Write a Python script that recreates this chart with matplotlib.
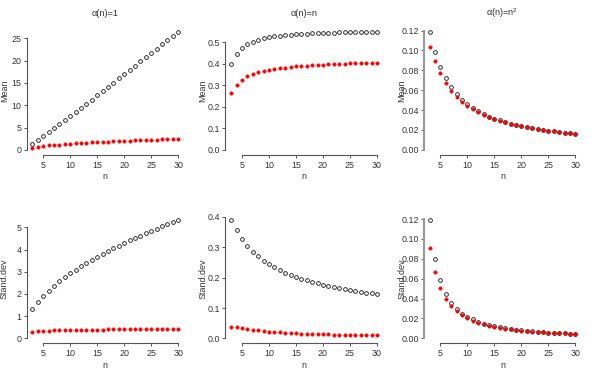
import matplotlib
matplotlib.use("Agg")
import matplotlib.pyplot as plt
import numpy as np

plt.rcParams['font.family'] = ['Liberation Sans', 'DejaVu Sans']
plt.rcParams['mathtext.fontset'] = 'custom'
plt.rcParams['mathtext.rm'] = 'Liberation Sans'

n = list(range(3, 31))

mean1_black = [1.4, 2.2, 3.0, 3.9, 4.8, 5.7, 6.6, 7.5, 8.4, 9.3, 10.3, 11.2, 12.2, 13.1,
               14.1, 15.0, 16.0, 16.9, 17.9, 18.8, 19.8, 20.7, 21.7, 22.6, 23.6, 24.6, 25.6, 26.5]
mean1_red = [0.5, 0.7, 0.85, 1.0, 1.1, 1.2, 1.3, 1.4, 1.45, 1.5, 1.6, 1.65, 1.7, 1.78,
             1.85, 1.9, 1.95, 2.0, 2.05, 2.1, 2.15, 2.2, 2.25, 2.3, 2.35, 2.4, 2.42, 2.45]

mean2_black = [0.40, 0.445, 0.472, 0.49, 0.502, 0.51, 0.517, 0.522, 0.526, 0.529, 0.532, 0.534,
               0.536, 0.537, 0.539, 0.54, 0.541, 0.542, 0.543, 0.544, 0.545, 0.545, 0.546,
               0.547, 0.547, 0.548, 0.548, 0.549]
mean2_red = [0.265, 0.302, 0.325, 0.341, 0.352, 0.36, 0.366, 0.371, 0.375, 0.379, 0.382, 0.385,
             0.387, 0.389, 0.391, 0.393, 0.394, 0.396, 0.397, 0.398, 0.399, 0.400, 0.401,
             0.402, 0.403, 0.404, 0.404, 0.405]

mean3_black = [0.119, 0.098, 0.083, 0.072, 0.063, 0.056, 0.0505, 0.046, 0.042, 0.039, 0.036,
               0.0335, 0.0315, 0.0297, 0.028, 0.0265, 0.0252, 0.024, 0.023, 0.022, 0.021,
               0.0202, 0.0194, 0.0187, 0.018, 0.0174, 0.0168, 0.0163]
mean3_red = [0.103, 0.089, 0.077, 0.067, 0.0595, 0.0535, 0.0485, 0.0445, 0.041, 0.038, 0.0353,
             0.033, 0.031, 0.0293, 0.0277, 0.0262, 0.025, 0.0238, 0.0228, 0.0218, 0.0209,
             0.0201, 0.0193, 0.0186, 0.0179, 0.0173, 0.0167, 0.0162]

sd1_black = [1.32, 1.63, 1.90, 2.15, 2.37, 2.57, 2.75, 2.93, 3.09, 3.24, 3.39, 3.53, 3.67, 3.80,
             3.93, 4.06, 4.18, 4.30, 4.41, 4.52, 4.63, 4.74, 4.84, 4.94, 5.04, 5.14, 5.24, 5.33]
sd1_red = [0.28, 0.31, 0.33, 0.345, 0.355, 0.365, 0.37, 0.375, 0.38, 0.385, 0.39, 0.39, 0.395,
           0.395, 0.40, 0.40, 0.40, 0.402, 0.403, 0.404, 0.405, 0.406, 0.406, 0.407, 0.408,
           0.408, 0.409, 0.41]

sd2_black = [0.39, 0.357, 0.328, 0.305, 0.286, 0.27, 0.256, 0.244, 0.234, 0.225, 0.217, 0.21,
             0.203, 0.197, 0.191, 0.186, 0.181, 0.177, 0.173, 0.169, 0.165, 0.162, 0.159,
             0.156, 0.153, 0.15, 0.148, 0.145]
sd2_red = [0.039, 0.036, 0.033, 0.030, 0.028, 0.026, 0.024, 0.022, 0.021, 0.020, 0.019, 0.018,
           0.017, 0.016, 0.0155, 0.015, 0.014, 0.0135, 0.013, 0.0125, 0.012, 0.0115, 0.011,
           0.011, 0.0105, 0.010, 0.010, 0.0095]

sd3_black = [0.119, 0.080, 0.059, 0.045, 0.036, 0.030, 0.025, 0.0215, 0.019, 0.0165, 0.0147,
             0.0132, 0.012, 0.011, 0.0101, 0.0093, 0.0086, 0.008, 0.0075, 0.007, 0.0066,
             0.0062, 0.0058, 0.0055, 0.0052, 0.005, 0.0047, 0.0045]
sd3_red = [0.091, 0.067, 0.051, 0.040, 0.033, 0.0275, 0.0233, 0.020, 0.0175, 0.0155, 0.014,
           0.0127, 0.0115, 0.0105, 0.0097, 0.009, 0.0083, 0.0078, 0.0073, 0.0068, 0.0064,
           0.006, 0.0057, 0.0054, 0.0051, 0.0049, 0.0046, 0.0044]

titles = ["α(n)=1", "α(n)=n", "α(n)=n$^{2}$"]
xticks = [5, 10, 15, 20, 25, 30]
yticks_top = [[0, 5, 10, 15, 20, 25], [0.0, 0.1, 0.2, 0.3, 0.4, 0.5],
              [0.00, 0.02, 0.04, 0.06, 0.08, 0.10, 0.12]]
ytl_top = [["0", "5", "10", "15", "20", "25"], ["0.0", "0.1", "0.2", "0.3", "0.4", "0.5"],
           ["0.00", "0.02", "0.04", "0.06", "0.08", "0.10", "0.12"]]
yticks_bot = [[0, 1, 2, 3, 4, 5], [0.0, 0.1, 0.2, 0.3, 0.4],
              [0.00, 0.02, 0.04, 0.06, 0.08, 0.10, 0.12]]
ytl_bot = [["0", "1", "2", "3", "4", "5"], ["0.0", "0.1", "0.2", "0.3", "0.4"],
           ["0.00", "0.02", "0.04", "0.06", "0.08", "0.10", "0.12"]]

panels = [
    (0, 0, mean1_black, mean1_red, "Mean", titles[0], yticks_top[0], ytl_top[0]),
    (0, 1, mean2_black, mean2_red, "Mean", titles[1], yticks_top[1], ytl_top[1]),
    (0, 2, mean3_black, mean3_red, "Mean", titles[2], yticks_top[2], ytl_top[2]),
    (1, 0, sd1_black, sd1_red, "Stand.dev", None, yticks_bot[0], ytl_bot[0]),
    (1, 1, sd2_black, sd2_red, "Stand.dev", None, yticks_bot[1], ytl_bot[1]),
    (1, 2, sd3_black, sd3_red, "Stand.dev", None, yticks_bot[2], ytl_bot[2]),
]

W, H = 595, 377
fig = plt.figure(figsize=(W / 100, H / 100), dpi=100)

lefts = [26.6, 225.3, 423.8]
width = 157.5
tops = [26.8, 215.3]
height = 127.8

fs = 6.4
for row, col, blk, red, ylab, title, yt, ytl in panels:
    ax = fig.add_axes([lefts[col] / W, 1 - (tops[row] + height) / H, width / W, height / H])
    ax.plot(n, blk, linestyle='none', marker='o', markersize=2.7, markerfacecolor='none',
            markeredgecolor='#222222', markeredgewidth=0.65)
    ax.plot(n, red, linestyle='none', marker='o', markersize=2.5, markerfacecolor='red',
            markeredgecolor='red', markeredgewidth=0.3)
    xr = max(n) - min(n)
    ax.set_xlim(min(n) - 0.04 * xr, max(n) + 0.04 * xr)
    ymax = max(max(blk), max(red))
    ax.set_ylim(-0.04 * ymax, ymax * 1.04)
    for s in ['top', 'right']:
        ax.spines[s].set_visible(False)
    spc = '#999999' if col == 2 else '#555555'
    slw = 1.5 if col == 2 else 0.8
    ax.spines['left'].set_color(spc)
    ax.spines['left'].set_linewidth(slw)
    ax.spines['bottom'].set_color('#555555')
    ax.spines['bottom'].set_linewidth(0.8)
    ax.spines['left'].set_bounds(yt[0], yt[-1])
    ax.spines['bottom'].set_bounds(xticks[0], xticks[-1])
    ax.set_xticks(xticks)
    ax.set_xticklabels([str(v) for v in xticks])
    ax.set_yticks(yt)
    ax.set_yticklabels(ytl)
    ax.tick_params(axis='x', length=2.4, width=0.7, color='#555555', pad=2.2,
                   labelsize=fs, labelcolor='#333333')
    ax.tick_params(axis='y', length=2.2, width=0.7, color='#555555', pad=1.4,
                   labelsize=fs, labelcolor='#333333')
    ax.patch.set_visible(False)
    ax.annotate(ylab, xy=(0, 0.5), xycoords='axes fraction', xytext=(-16, 0),
                textcoords='offset points', ha='center', va='center', rotation=90,
                fontsize=fs, color='#333333')
    ax.annotate('n', xy=(0.5, 0), xycoords='axes fraction', xytext=(0, -16),
                textcoords='offset points', ha='center', va='center',
                fontsize=fs, color='#333333')
    if title:
        ax.annotate(title, xy=(0.5, 1), xycoords='axes fraction', xytext=(0, 9.6),
                    textcoords='offset points', ha='center', va='center',
                    fontsize=fs + 0.2, color='#333333')

fig.savefig('out.png', dpi=100)
